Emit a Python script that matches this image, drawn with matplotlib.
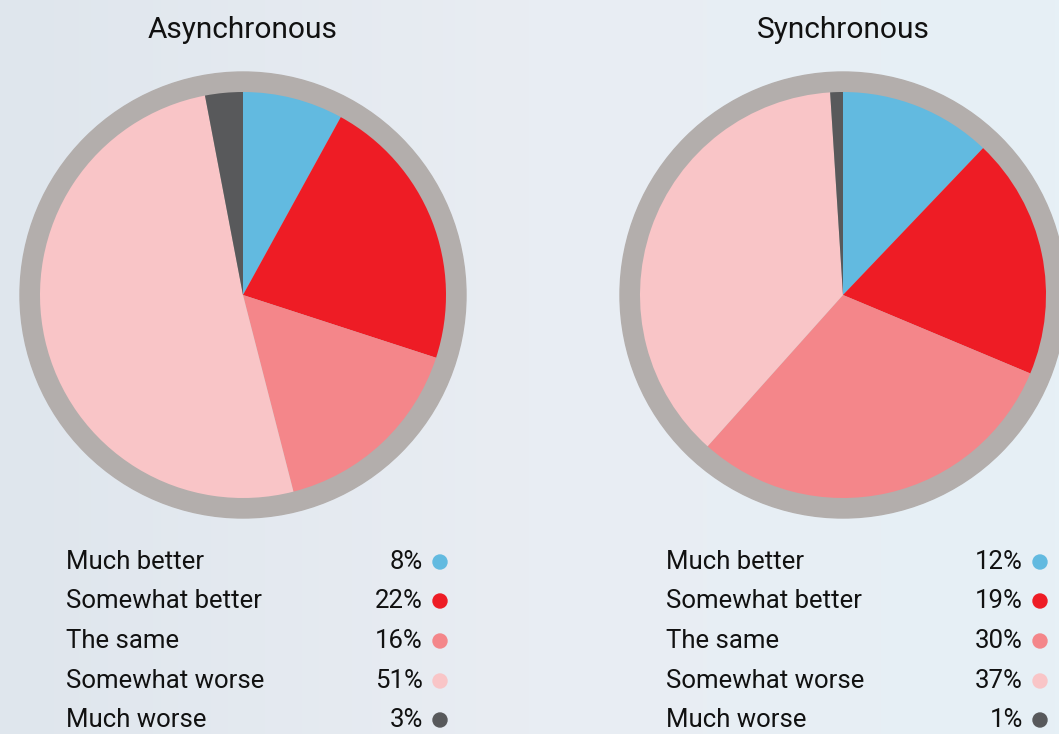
import numpy as np
import matplotlib.pyplot as plt
from matplotlib.patches import Circle
from matplotlib.colors import LinearSegmentedColormap

categories = ["Much better", "Somewhat better", "The same", "Somewhat worse", "Much worse"]
async_values = [8, 22, 16, 51, 3]
sync_values = [12, 19, 30, 37, 1]
titles = ["Asynchronous", "Synchronous"]

colors = ["#62bae0", "#ee1c25", "#f4868a", "#f9c5c7", "#58595b"]
ring_color = "#b3aeac"

W, H = 1059, 734
fig = plt.figure(figsize=(W / 100, H / 100), dpi=100)
ax = fig.add_axes([0, 0, 1, 1])

# soft background gradient
grad = np.linspace(0, 1, 256)[None, :]
bg = LinearSegmentedColormap.from_list("bg", ["#dfe6ed", "#e9edf3", "#e6f0f6"])
ax.imshow(grad, cmap=bg, extent=[0, W, 0, H], aspect="auto", zorder=0)

font = ["Roboto", "DejaVu Sans"]


def draw_panel(values, title, cx, text_x, pct_x):
    cy = H - 295
    ax.add_patch(Circle((cx, cy), 223, color=ring_color, zorder=1))
    wedges, _ = ax.pie(values, colors=colors, startangle=90, counterclock=False,
                       center=(cx, cy), radius=203, frame=True)
    for w in wedges:
        w.set_zorder(2)
    ax.text(cx, H - 30, title, ha="center", va="center", fontsize=21.5,
            family=font, color="#111111")
    rows = [562, 601, 641, 681, 720]
    for cat, v, c, ry in zip(categories, values, colors, rows):
        y = H - ry
        ax.text(text_x, y, cat, ha="left", va="center", fontsize=18.5,
                family=font, color="#111111")
        ax.text(pct_x, y, f"{v}%", ha="right", va="center", fontsize=18.5,
                family=font, color="#111111")
        ax.add_patch(Circle((pct_x + 17, y), 7, color=c, zorder=3))


draw_panel(async_values, titles[0], 243, 66, 423)
draw_panel(sync_values, titles[1], 843, 666, 1023)

ax.set_xlim(0, W)
ax.set_ylim(0, H)
ax.set_aspect("equal")
ax.axis("off")
fig.savefig("out.png", dpi=100)
